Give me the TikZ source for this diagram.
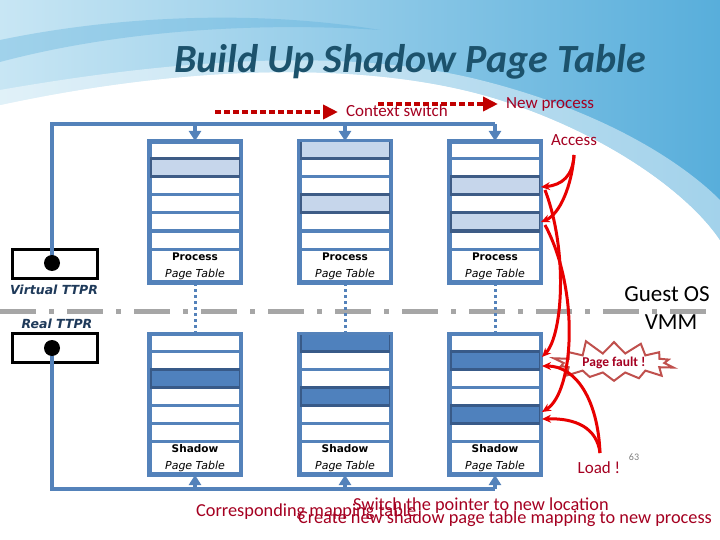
\documentclass[tikz,border=0pt]{standalone}
\usepackage{fontspec}
\setmainfont{Carlito}
\newfontfamily\tabfont{DejaVu Sans}
\usetikzlibrary{arrows.meta,shapes.symbols}
\definecolor{tblue}{RGB}{84,130,186}
\definecolor{lightrow}{RGB}{198,214,235}
\definecolor{lightedge}{RGB}{62,92,134}
\definecolor{darkrow}{RGB}{79,129,189}
\definecolor{darkedge}{RGB}{56,90,136}
\definecolor{dred}{RGB}{165,0,33}
\definecolor{arrred}{RGB}{192,0,0}
\definecolor{cred}{RGB}{232,0,0}
\definecolor{pfedge}{RGB}{192,80,77}
\definecolor{titlec}{RGB}{28,82,108}
\definecolor{navy}{RGB}{31,58,90}
\definecolor{sepgray}{RGB}{166,166,166}
\definecolor{bgl}{RGB}{200,230,244}
\definecolor{bgr}{RGB}{88,174,219}
\tikzset{
  tbl/.style={draw=tblue, line width=3pt, fill=white, minimum width=90pt, minimum height=139pt, inner sep=0pt, anchor=north},
  rowline/.style={draw=tblue, line width=3pt},
  labA/.style={font=\tabfont\bfseries\fontsize{10.5}{12}\selectfont, inner sep=0pt},
  labB/.style={font=\tabfont\itshape\fontsize{11}{12}\selectfont, inner sep=0pt},
  bus/.style={draw=tblue, line width=3.5pt},
  busarrow/.style={bus, -{Triangle[length=10pt,width=12pt]}},
  dotline/.style={draw=tblue, line width=3pt, dash pattern=on 3pt off 3pt},
  ttprbox/.style={draw=black, line width=3pt, fill=white, minimum width=85pt, minimum height=29pt, inner sep=0pt},
  blackdot/.style={circle, fill=black, minimum size=16pt, inner sep=0pt},
  ttprlab/.style={font=\tabfont\bfseries\itshape\fontsize{12.5}{14}\selectfont, text=navy, inner sep=0pt},
  sepline/.style={draw=sepgray, line width=5pt, dash pattern=on 36pt off 13pt on 5pt off 13pt},
  csarrow/.style={draw=arrred, line width=4.5pt, dash pattern=on 6pt off 3pt, -{Triangle[length=15pt,width=14pt]}},
  redtxt/.style={text=dred, font=\fontsize{17}{20}\selectfont, inner sep=0pt},
  captxt/.style={text=dred, font=\fontsize{18.3}{20}\selectfont, inner sep=0pt, anchor=west},
  redcurve/.style={draw=cred, line width=3pt, -{Stealth[length=9pt,width=8pt]}},
  bigtxt/.style={font=\fontsize{23}{26}\selectfont, inner sep=0pt}
}
\begin{document}
\begin{tikzpicture}[x=1pt,y=-1pt]
\useasboundingbox (0,0) rectangle (720,540);
% background
\fill[white] (0,0) rectangle (720,540);
\shade[left color=bgl, right color=bgr] (0,0) -- (720,0) -- (720,240) .. controls (690,195) and (610,135) .. (500,100) .. controls (380,62) and (200,62) .. (0,105) -- cycle;
\fill[white, opacity=0.45] (0,105) .. controls (200,62) and (380,62) .. (500,100) .. controls (610,135) and (690,195) .. (720,240) -- (720,200) .. controls (680,160) and (600,110) .. (480,80) .. controls (360,50) and (200,55) .. (0,90) -- cycle;
\fill[bgr, opacity=0.35] (0,40) .. controls (120,15) and (260,10) .. (380,30) .. controls (260,22) and (120,30) .. (0,62) -- cycle;
% title
\node[text=titlec, font=\bfseries\itshape\fontsize{40}{46}\selectfont, anchor=base, inner sep=0pt] (title) at (410,73) {Build Up Shadow Page Table};
% separator
\draw[sepline] (0,311) -- (712,311);
% tables
\foreach \nm/\cx/\ty/\hl/\fc/\ec/\la in {
  P1/195/141/{1}/lightrow/lightedge/Process,
  P2/345/141/{0,3}/lightrow/lightedge/Process,
  P3/495/141/{2,4}/lightrow/lightedge/Process,
  S1/195/333/{2}/darkrow/darkedge/Shadow,
  S2/345/333/{0,3}/darkrow/darkedge/Shadow,
  S3/495/333/{1,4}/darkrow/darkedge/Shadow}{
  \node[tbl] (\nm) at (\cx,\ty) {};
  \foreach \k in {1,...,6} \draw[rowline] (\cx-45,\ty+18*\k) -- (\cx+45,\ty+18*\k);
  \foreach \r in \hl \draw[fill=\fc, draw=\ec, line width=3pt] (\cx-45,\ty+18*\r) rectangle (\cx+45,\ty+18*\r+18);
  \draw[tblue, line width=3pt] (\nm.north west) rectangle (\nm.south east);
  \node[labA] (\nm a) at (\cx,\ty+116) {\la};
  \node[labB] (\nm b) at (\cx,\ty+133) {Page Table};
}
% dotted links
\draw[dotline] (P1.south) -- (S1.north);
\draw[dotline] (P2.south) -- (S2.north);
\draw[dotline] (P3.south) -- (S3.north);
% TTPR boxes
\node[ttprbox] (vbox) at (54.5,263.5) {};
\node[ttprbox] (rbox) at (54.5,348) {};
\node[ttprlab] (vlab) at (54,290) {Virtual TTPR};
\node[ttprlab] (rlab) at (57,324) {Real TTPR};
% buses
\coordinate (vd) at (52,263);
\coordinate (rd) at (52,348);
\coordinate (t1) at (195,124);
\coordinate (t2) at (345,124);
\coordinate (t3) at (495,124);
\coordinate (b1) at (195,489);
\coordinate (b2) at (345,489);
\coordinate (b3) at (495,489);
\draw[bus] (vd) |- (t3);
\draw[bus] (rd) |- (b3);
\draw[busarrow] (t1) -- (P1.north);
\draw[busarrow] (t2) -- (P2.north);
\draw[busarrow] (t3) -- (P3.north);
\draw[busarrow] (b1) -- (S1.south);
\draw[busarrow] (b2) -- (S2.south);
\draw[busarrow] (b3) -- (S3.south);
\node[blackdot] (vdot) at (vd) {};
\node[blackdot] (rdot) at (rd) {};
% context switch
\node[redtxt] (cs) at (397,111) {Context switch};
\node[redtxt, anchor=west] (np) at (506,104) {New process};
\coordinate (cs1a) at (215,112);
\coordinate (cs1b) at (338,112);
\coordinate (cs2a) at (378,104);
\coordinate (cs2b) at (498,104);
\draw[csarrow] (cs1a) -- (cs1b);
\draw[csarrow] (cs2a) -- (cs2b);
% guest/vmm
\node[bigtxt] (gos) at (667,294) {Guest OS};
\node[bigtxt] (vmm) at (671,322) {VMM};
% page fault
\node[starburst, starburst points=14, starburst point height=15pt, random starburst=11, draw=pfedge, line width=2pt, fill=white, text=dred, font=\bfseries\fontsize{13.5}{15}\selectfont, inner xsep=4pt, inner ysep=1pt] (pf) at (614,363) {Page fault !};
% access / load
\node[redtxt] (acc) at (574,140) {Access};
\node[redtxt] (load) at (599,468) {Load !};
\node[text=gray, font=\fontsize{10}{12}\selectfont, inner sep=0pt] (pg) at (634,457) {63};
\coordinate (ac) at (574,155);
\coordinate (ld) at (600,453);
\coordinate (pr2) at (541,187);
\coordinate (pr4) at (541,222);
\coordinate (sr1a) at (542,357);
\coordinate (sr4a) at (542,412);
\coordinate (sr1b) at (542,366);
\coordinate (sr4b) at (542,419);
\coordinate (pr2s) at (545,190);
\coordinate (pr4s) at (545,225);
\draw[redcurve] (ac) .. controls (573,176) and (562,185) .. (pr2);
\draw[redcurve] (ac) .. controls (572,185) and (560,214) .. (pr4);
\draw[redcurve] (pr2s) .. controls (568,250) and (563,335) .. (sr1a);
\draw[redcurve] (pr4s) .. controls (580,290) and (574,392) .. (sr4a);
\draw[redcurve] (ld) .. controls (598,400) and (576,366) .. (sr1b);
\draw[redcurve] (ld) .. controls (597,428) and (576,418) .. (sr4b);
% bottom captions
\node[captxt] (corr) at (196,512) {Corresponding mapping table};
\node[captxt] (sw) at (353,506) {Switch the pointer to new location};
\node[captxt] (cr) at (298,519) {Create new shadow page table mapping to new process};
\end{tikzpicture}
\end{document}
